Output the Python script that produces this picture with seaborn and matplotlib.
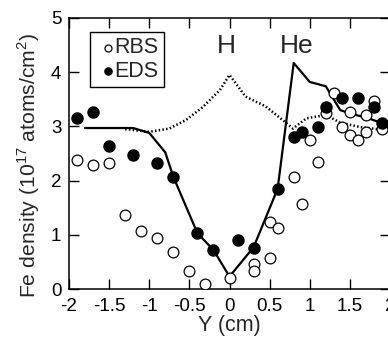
import numpy as np
import pandas as pd
import matplotlib
matplotlib.use("Agg")
import matplotlib.pyplot as plt
import seaborn as sns

# RBS (open circles)
rbs_y = [-1.9, -1.7, -1.5, -1.3, -1.1, -0.9, -0.7, -0.5, -0.3, 0.0, 0.3, 0.3,
         0.5, 0.5, 0.6, 0.8, 0.9, 1.0, 1.1, 1.2, 1.3, 1.4, 1.5, 1.5, 1.6,
         1.7, 1.7, 1.8, 1.9]
rbs_fe = [2.38, 2.28, 2.33, 1.37, 1.07, 0.94, 0.69, 0.33, 0.09, 0.21, 0.46, 0.33,
          0.57, 1.24, 1.13, 2.06, 1.56, 2.75, 2.35, 3.24, 3.61, 2.99, 3.27, 2.84, 2.75,
          3.21, 2.90, 3.46, 2.96]

# EDS (filled circles)
eds_y = [-1.9, -1.7, -1.5, -1.2, -0.9, -0.7, -0.4, -0.2, 0.1, 0.3, 0.6,
         0.8, 0.9, 1.1, 1.2, 1.4, 1.6, 1.8, 1.9]
eds_fe = [3.15, 3.26, 2.64, 2.47, 2.33, 2.07, 1.04, 0.72, 0.90, 0.75, 1.85,
          2.81, 2.90, 2.99, 3.35, 3.53, 3.52, 3.36, 3.06]

# solid curve
solid_y = [-1.8, -1.2, -1.0, -0.8, -0.7, -0.4, -0.2, 0.0, 0.3, 0.6,
           0.8, 1.0, 1.2, 1.38, 1.5, 1.73, 1.92]
solid_fe = [2.97, 2.97, 2.88, 2.52, 2.07, 1.03, 0.72, 0.23, 0.77, 1.85,
            4.17, 3.82, 3.74, 3.30, 3.24, 3.15, 3.05]

# dotted curve
dot_y = [-1.3, -1.0, -0.75, -0.54, -0.33, -0.12, 0.0, 0.2, 0.45, 0.66, 0.79,
         0.96, 1.2, 1.38, 1.62, 1.85]
dot_fe = [2.95, 2.90, 2.96, 3.12, 3.36, 3.67, 3.95, 3.55, 3.37, 3.12, 2.96,
          3.15, 3.21, 3.07, 2.99, 2.95]

sns.set_style("ticks")
plt.rcParams['font.family'] = ['Liberation Sans', 'DejaVu Sans']
plt.rcParams['axes.unicode_minus'] = False
plt.rcParams['mathtext.fontset'] = 'custom'
plt.rcParams['mathtext.rm'] = 'Liberation Sans'

fig = plt.figure(figsize=(3.88, 3.40), dpi=100)
ax = fig.add_axes([69/388, 51/340, 321/388, 271/340])

sns.lineplot(x=solid_y, y=solid_fe, ax=ax, sort=False, estimator=None,
             color='black', linewidth=1.6, zorder=2)
sns.lineplot(x=dot_y, y=dot_fe, ax=ax, sort=False, estimator=None,
             color='black', linewidth=1.8, linestyle=(0, (0.6, 0.9)), zorder=2)

sns.scatterplot(x=rbs_y, y=rbs_fe, ax=ax, marker='o', s=60,
                facecolor='white', edgecolor='black', linewidth=0.9,
                label='RBS', zorder=3)
sns.scatterplot(x=eds_y, y=eds_fe, ax=ax, marker='o', s=65,
                color='black', edgecolor='black', linewidth=0.9,
                label='EDS', zorder=4)

ax.set_xlim(-2, 2)
ax.set_ylim(0, 5)
ax.set_xticks(np.arange(-2, 2.01, 0.5))
ax.set_xticklabels(['-2', '-1.5', '-1', '-0.5', '0', '0.5', '1', '1.5', '2'])
ax.set_yticks([0, 1, 2, 3, 4, 5])
ax.tick_params(direction='in', length=7, width=1, top=True, right=True,
               labelsize=13.5, colors='black')
ax.tick_params(axis='x', pad=6.5)
ax.tick_params(axis='y', pad=5.5)
for sp in ax.spines.values():
    sp.set_visible(True)
    sp.set_linewidth(1.1)
    sp.set_color('black')

ax.set_xlabel('Y (cm)', fontsize=15.5, labelpad=0)
ax.set_ylabel('Fe density (10$^{17}$ atoms/cm$^{2}$)', fontsize=15.2)
ax.yaxis.set_label_coords(-0.084, 0.458)

ax.text(-0.04, 4.49, 'H', fontsize=19, ha='center', va='center')
ax.text(0.84, 4.49, 'He', fontsize=19, ha='center', va='center')

leg = ax.legend(loc='upper left', bbox_to_anchor=(0.065, 0.948), borderaxespad=0,
                frameon=True, fancybox=False, edgecolor='black', fontsize=15.5,
                handletextpad=-0.3, borderpad=0.25, labelspacing=0.1,
                markerscale=0.65, handlelength=1.2)
leg.get_frame().set_linewidth(1.0)
leg.get_frame().set_alpha(1)

fig.savefig('out.png', dpi=100)
